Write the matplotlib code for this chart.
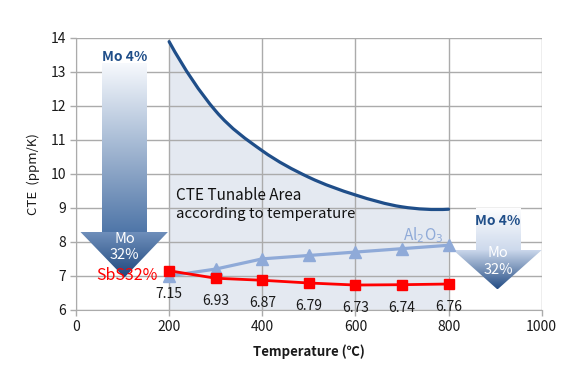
import numpy as np
import matplotlib
matplotlib.use("Agg")
import matplotlib.pyplot as plt
from matplotlib.path import Path
from matplotlib.patches import PathPatch, Polygon
from matplotlib.colors import LinearSegmentedColormap

plt.rcParams['font.family'] = ['Noto Sans CJK KR', 'DejaVu Sans']

# ---- data ----
temps = [200, 300, 400, 500, 600, 700, 800]
mo4_cte = [13.89, 11.85, 10.68, 9.9, 9.38, 9.03, 8.96]
al2o3_cte = [7.0, 7.2, 7.5, 7.6, 7.7, 7.8, 7.9]
sbs32_cte = [7.15, 6.93, 6.87, 6.79, 6.73, 6.74, 6.76]
sbs32_labels = ["7.15", "6.93", "6.87", "6.79", "6.73", "6.74", "6.76"]
x_ticks = [0, 200, 400, 600, 800, 1000]
y_ticks = [6, 7, 8, 9, 10, 11, 12, 13, 14]

DARK = '#1f4e89'
LIGHT = '#8faad8'
RED = '#ff0000'
GRID = '#ababab'

fig = plt.figure(figsize=(5.8, 3.83), dpi=100)
ax = fig.add_axes([0.131, 0.191, 0.803, 0.710])
ax.set_xlim(0, 1000)
ax.set_ylim(6, 14)
ax.set_xticks(x_ticks)
ax.set_yticks(y_ticks)
ax.set_axisbelow(True)
ax.grid(True, color=GRID, linewidth=1.0)
for s in ax.spines.values():
    s.set_visible(False)
ax.spines['left'].set_visible(True)
ax.spines['bottom'].set_visible(True)
ax.spines['left'].set_color(GRID)
ax.spines['bottom'].set_color(GRID)
ax.tick_params(colors=GRID, labelcolor='#1a1a1a', labelsize=10, length=4, width=1, pad=3)

# smooth curve (Catmull-Rom -> cubic Bezier) through the data points
def smooth_path(xs, ys):
    pts = np.column_stack([xs, ys]).astype(float)
    n = len(pts)
    ghost_start = 3 * pts[0] - 3 * pts[1] + pts[2]
    ghost_end = 3 * pts[-1] - 3 * pts[-2] + pts[-3]
    ext = np.vstack([ghost_start, pts, ghost_end])
    verts = [pts[0]]
    codes = [Path.MOVETO]
    for i in range(1, n):
        p0, p1, p2, p3 = ext[i - 1], ext[i], ext[i + 1], ext[i + 2]
        c1 = p1 + (p2 - p0) / 6.0
        c2 = p2 - (p3 - p1) / 6.0
        verts += [c1, c2, p2]
        codes += [Path.CURVE4] * 3
    return verts, codes

v, c = smooth_path(temps, mo4_cte)
# fill area
fv = list(v) + [(temps[-1], 6), (temps[0], 6), v[0]]
fc = list(c) + [Path.LINETO, Path.LINETO, Path.CLOSEPOLY]
ax.add_patch(PathPatch(Path(fv, fc), facecolor='#e4e9f1', edgecolor='none', zorder=0.3))
ax.add_patch(PathPatch(Path(v, c), facecolor='none', edgecolor=DARK, linewidth=2.3,
                       capstyle='round', zorder=4))

# gradient arrows
def grad_poly(poly, ext, c_top, c_bot, z=2):
    cmap = LinearSegmentedColormap.from_list('g', [c_bot, c_top])
    grad = np.linspace(1, 0, 256).reshape(-1, 1)
    im = ax.imshow(grad, cmap=cmap, extent=ext, aspect='auto', origin='upper', zorder=z,
                   vmin=0, vmax=1, interpolation='bicubic')
    patch = Polygon(poly, closed=True, facecolor='none', edgecolor='none', transform=ax.transData)
    ax.add_patch(patch)
    im.set_clip_path(patch)

# left arrow
grad_poly([(56, 13.25), (152, 13.25), (152, 8.3), (56, 8.3)], (56, 152, 8.3, 13.25), '#f7f9fd', '#4f76a8')
grad_poly([(9, 8.3), (198, 8.3), (104, 6.95)], (9, 198, 6.95, 8.3), '#6f8fbb', '#1d467c')
# right arrow
grad_poly([(858, 9.0), (955, 9.0), (955, 7.76), (858, 7.76)], (858, 955, 7.76, 9.0), '#ffffff', '#cdd9ec')
grad_poly([(810, 7.76), (1000, 7.76), (905, 6.6)], (810, 1000, 6.6, 7.76), '#cfdbee', '#234c84')

ax.text(105, 13.45, 'Mo 4%', color=DARK, fontsize=10, fontweight='bold', ha='center', va='center', zorder=5)
ax.text(104, 8.08, 'Mo', color='white', fontsize=10.5, ha='center', va='center', zorder=5)
ax.text(104, 7.6, '32%', color='white', fontsize=10.5, ha='center', va='center', zorder=5)
ax.text(906, 8.6, 'Mo 4%', color=DARK, fontsize=10, fontweight='bold', ha='center', va='center', zorder=5)
ax.text(906, 7.68, 'Mo', color='white', fontsize=10.5, ha='center', va='center', zorder=5)
ax.text(906, 7.16, '32%', color='white', fontsize=10.5, ha='center', va='center', zorder=5)

# series
ax.plot(temps, al2o3_cte, color=LIGHT, linewidth=2.3, marker='^', markersize=8, zorder=5)
ax.plot(temps, sbs32_cte, color=RED, linewidth=2.0, marker='s', markersize=7, zorder=6)
for t, val, lab in zip(temps, sbs32_cte, sbs32_labels):
    ax.annotate(lab, (t, val), xytext=(0, -16.5), textcoords='offset points',
                ha='center', va='center', fontsize=10, color='#1a1a1a', zorder=7)

ax.text(176, 7.0, 'SbS32%', color=RED, fontsize=11.5, ha='right', va='center', zorder=7)
ax.text(746, 8.2, 'Al$_2$O$_3$', color=LIGHT, fontsize=11, ha='center', va='center', zorder=7)
ax.text(215, 9.35, 'CTE Tunable Area', color='#111111', fontsize=11, ha='left', va='center', zorder=7)
ax.text(215, 8.82, 'according to temperature', color='#111111', fontsize=10.8, ha='left', va='center', zorder=7)

ax.set_ylabel('CTE  (ppm/K)', fontsize=9.5, color='#1a1a1a', labelpad=8)
ax.set_xlabel('Temperature (℃)', fontsize=9.5, fontweight='bold', color='#1a1a1a', labelpad=8)

fig.savefig('out.png', dpi=100)
